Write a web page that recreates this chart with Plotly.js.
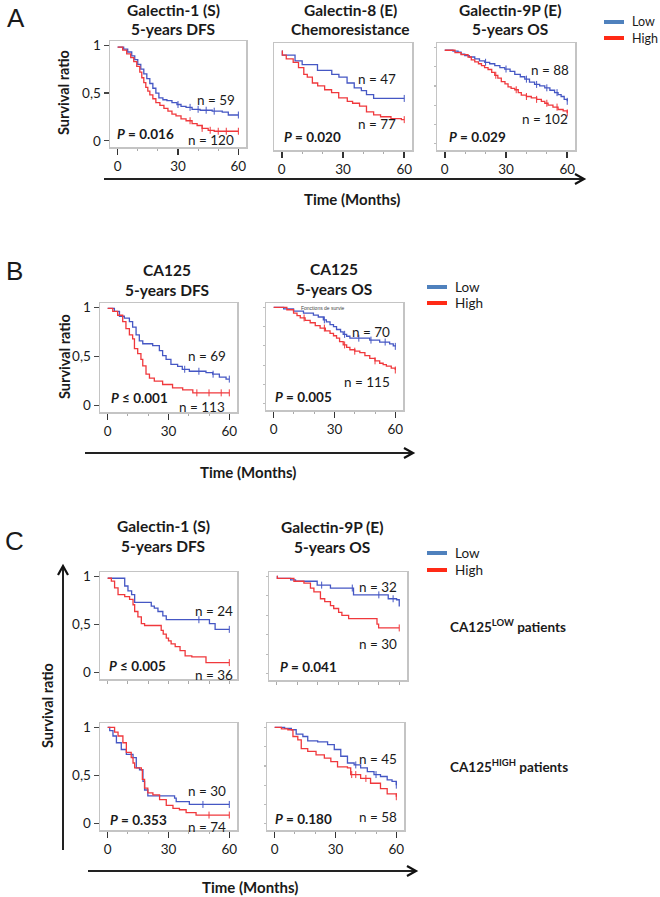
<!DOCTYPE html>
<html><head><meta charset="utf-8">
<script src="https://cdn.plot.ly/plotly-3.0.1.min.js"></script>
<style>html,body{margin:0;padding:0;background:#fff}#chart{width:660px;height:897px}</style>
</head><body><div id="chart"></div>
<script>
// ---------------- DATA ----------------
// Panel A - Galectin-1 (S) 5-years DFS
const a1LowT  = [0, 3, 5, 7, 8.5, 10, 11.5, 13, 14.5, 16, 17.5, 19, 20.5, 22.5, 24.5, 27, 29.5, 31.5, 34, 37, 41, 47, 52, 55, 60];
const a1LowS  = [0.98, 0.96, 0.93, 0.89, 0.85, 0.80, 0.75, 0.70, 0.65, 0.60, 0.55, 0.50, 0.45, 0.43, 0.42, 0.40, 0.38, 0.36, 0.35, 0.33, 0.32, 0.31, 0.30, 0.27, 0.27];
const a1LowC  = [30, 36, 40, 44, 48, 60];
const a1HighT = [0, 2.5, 4.5, 6.5, 8, 9.5, 11, 12, 13, 14, 15, 16, 17.5, 19, 21, 23, 25, 27, 29, 31.5, 34, 37, 39.5, 42, 45, 48, 60];
const a1HighS = [0.98, 0.95, 0.91, 0.87, 0.83, 0.78, 0.72, 0.66, 0.61, 0.56, 0.52, 0.48, 0.44, 0.40, 0.37, 0.34, 0.31, 0.28, 0.26, 0.23, 0.21, 0.18, 0.16, 0.13, 0.11, 0.10, 0.10];
const a1HighC = [36, 42, 46, 50, 54, 60];
// Panel A - Galectin-8 (E) Chemoresistance
const a2LowT  = [0, 0.3, 6.5, 10, 17.5, 24.5, 28, 32, 35.5, 39, 41.5, 45, 60];
const a2LowS  = [0.96, 0.92, 0.86, 0.82, 0.76, 0.72, 0.69, 0.63, 0.58, 0.55, 0.51, 0.47, 0.47];
const a2LowC  = [60];
const a2HighT = [0, 0.3, 2.2, 5.6, 8.2, 10.8, 12.5, 15, 17.6, 21, 24.4, 27.9, 32.1, 34.7, 38.1, 41.5, 45, 48.4, 53.5, 58.6, 60];
const a2HighS = [0.96, 0.92, 0.88, 0.845, 0.79, 0.72, 0.69, 0.63, 0.60, 0.56, 0.53, 0.475, 0.44, 0.42, 0.39, 0.33, 0.30, 0.28, 0.26, 0.25, 0.25];
const a2HighC = [60];
// Panel A - Galectin-9P (E) 5-years OS
const a3LowT  = [0, 4, 6.5, 8, 9.8, 12, 14.7, 17, 19.6, 22, 24.5, 27, 29.4, 32, 34.3, 37, 39.2, 41.5, 44, 46.5, 49, 51.5, 53.8, 55.5, 57, 58.5, 60];
const a3LowS  = [0.97, 0.96, 0.95, 0.93, 0.915, 0.90, 0.88, 0.86, 0.845, 0.83, 0.81, 0.79, 0.775, 0.75, 0.72, 0.695, 0.67, 0.64, 0.615, 0.60, 0.58, 0.555, 0.53, 0.51, 0.49, 0.46, 0.44];
const a3LowC  = [20, 30, 40, 45, 50, 55, 60];
const a3HighT = [0, 5, 8, 11.4, 13, 14.7, 16.5, 18, 19.5, 21.2, 23, 24.5, 26, 27.7, 29.5, 31, 32.5, 34.3, 36, 37.5, 40, 42.4, 45, 47.3, 49, 50.6, 53, 55.5, 58, 60];
const a3HighS = [0.97, 0.945, 0.925, 0.90, 0.87, 0.85, 0.83, 0.81, 0.79, 0.77, 0.74, 0.71, 0.68, 0.645, 0.62, 0.59, 0.575, 0.56, 0.53, 0.505, 0.49, 0.475, 0.46, 0.44, 0.42, 0.40, 0.38, 0.355, 0.34, 0.32];
const a3HighC = [25, 35, 40, 45, 50, 55, 60];
// Panel B - CA125 5-years DFS
const b1LowT  = [0, 3.3, 5.8, 8.2, 10.7, 12.3, 14, 15.6, 17.3, 22.2, 25.5, 27.1, 28.8, 31.2, 34.5, 36.8, 40.3, 48.5, 51.8, 55.1, 58.4, 60];
const b1LowS  = [0.99, 0.96, 0.91, 0.89, 0.855, 0.80, 0.72, 0.66, 0.63, 0.61, 0.56, 0.51, 0.47, 0.42, 0.40, 0.37, 0.35, 0.335, 0.32, 0.29, 0.27, 0.27];
const b1LowC  = [38, 45, 52, 60];
const b1HighT = [0, 2.5, 4.9, 7.4, 9, 10.7, 12.3, 13.2, 14.8, 16.4, 17.3, 18.9, 20.6, 23, 27.1, 32, 37, 42, 60];
const b1HighS = [0.99, 0.96, 0.92, 0.855, 0.785, 0.72, 0.68, 0.58, 0.53, 0.47, 0.405, 0.32, 0.28, 0.25, 0.215, 0.18, 0.16, 0.13, 0.13];
const b1HighC = [44, 50, 56, 60];
// Panel B - CA125 5-years OS
const b2LowT  = [0, 4.9, 9.8, 14.7, 19.6, 22, 24.5, 26, 27.8, 29.5, 31, 33, 34.3, 36, 37.6, 47.4, 52.3, 57.2, 59, 60];
const b2LowS  = [1.0, 0.985, 0.96, 0.94, 0.92, 0.90, 0.87, 0.85, 0.82, 0.80, 0.77, 0.745, 0.72, 0.70, 0.68, 0.66, 0.64, 0.62, 0.60, 0.595];
const b2LowC  = [25, 35, 42, 48, 55, 60];
const b2HighT = [0, 6.5, 9.8, 11.5, 13.1, 15.5, 18, 20.5, 22.9, 25.5, 27.8, 29.5, 31, 32.5, 34.3, 36, 37.6, 40, 42.5, 45, 47.4, 50, 52.3, 54, 55.6, 58, 60];
const b2HighS = [1.0, 0.975, 0.94, 0.915, 0.89, 0.865, 0.84, 0.81, 0.785, 0.755, 0.73, 0.705, 0.68, 0.645, 0.61, 0.585, 0.56, 0.545, 0.53, 0.50, 0.47, 0.445, 0.42, 0.405, 0.39, 0.37, 0.35];
const b2HighC = [15, 25, 35, 40, 50, 60];
// Panel C - CA125 LOW - Galectin-1 (S) 5-years DFS
const c1LowT  = [0, 8.4, 10, 11.8, 13.3, 21.5, 23, 24.8, 27.2, 28.9, 50.2, 53, 60];
const c1LowS  = [0.98, 0.90, 0.85, 0.81, 0.73, 0.69, 0.67, 0.635, 0.59, 0.55, 0.51, 0.45, 0.45];
const c1LowC  = [45, 60];
const c1HighT = [0, 1.8, 3.4, 5.1, 8.4, 10.8, 12.5, 13.3, 14.9, 16.6, 18.2, 26.4, 27.4, 28.9, 30, 31.3, 33.3, 35.7, 38.2, 41.5, 48.5, 60];
const c1HighS = [0.98, 0.95, 0.88, 0.81, 0.79, 0.76, 0.705, 0.635, 0.58, 0.51, 0.49, 0.44, 0.40, 0.36, 0.33, 0.30, 0.27, 0.23, 0.175, 0.165, 0.105, 0.105];
const c1HighC = [60];
// Panel C - CA125 LOW - Galectin-9P (E) 5-years OS
const c2LowT  = [0, 0.3, 6.8, 9.2, 19.8, 26.3, 37.6, 54.6, 58.7, 60];
const c2LowS  = [1.0, 0.98, 0.965, 0.95, 0.91, 0.88, 0.81, 0.77, 0.76, 0.69];
const c2LowC  = [22, 37, 50, 57];
const c2HighT = [0, 0.3, 8.4, 13.3, 16.5, 18.2, 21.4, 23.5, 26.3, 27.9, 30.3, 31.9, 35.2, 49.1, 49.9, 60];
const c2HighS = [1.0, 0.98, 0.95, 0.93, 0.88, 0.84, 0.77, 0.74, 0.70, 0.67, 0.63, 0.60, 0.565, 0.51, 0.47, 0.47];
const c2HighC = [60];
// Panel C - CA125 HIGH - Galectin-1 (S) 5-years DFS
const c3LowT  = [0, 1, 2.6, 4.3, 6.7, 9.2, 12.5, 14.1, 15.7, 17.4, 18.2, 19.8, 33, 33.8, 40.3, 60];
const c3LowS  = [1.0, 0.965, 0.91, 0.84, 0.77, 0.72, 0.685, 0.58, 0.56, 0.44, 0.35, 0.29, 0.265, 0.23, 0.20, 0.20];
const c3LowC  = [47, 60];
const c3HighT = [0, 3.4, 5.1, 7.5, 9.2, 11.6, 12.5, 13.3, 16.6, 17.1, 18.2, 19.8, 22.3, 25.6, 28.9, 32.2, 35.4, 38.7, 43.6, 60];
const c3HighS = [1.0, 0.95, 0.91, 0.84, 0.74, 0.685, 0.63, 0.58, 0.56, 0.46, 0.37, 0.32, 0.30, 0.25, 0.19, 0.16, 0.145, 0.115, 0.09, 0.09];
const c3HighC = [50, 60];
// Panel C - CA125 HIGH - Galectin-9P (E) 5-years OS
const c4LowT  = [0, 4.9, 8.2, 10.6, 13.9, 16.3, 21.2, 26.1, 29.4, 32.6, 35.9, 39.2, 42.4, 45.7, 49, 52.2, 55.5, 57.9, 60];
const c4LowS  = [1.0, 0.99, 0.975, 0.93, 0.905, 0.86, 0.85, 0.82, 0.77, 0.70, 0.63, 0.61, 0.58, 0.54, 0.51, 0.49, 0.455, 0.44, 0.40];
const c4LowC  = [40, 50, 60];
const c4HighT = [0, 3.3, 6.5, 9, 11.4, 13.1, 16.3, 20.4, 24.5, 27.7, 31, 35.9, 37.5, 42.4, 47.3, 52.2, 55.5, 60];
const c4HighS = [1.0, 0.985, 0.975, 0.905, 0.87, 0.78, 0.75, 0.715, 0.68, 0.645, 0.59, 0.58, 0.51, 0.47, 0.42, 0.365, 0.31, 0.28];
const c4HighC = [38, 40, 45, 60];

const groupNames = ['Low', 'High'];
const xTickVals = [0, 30, 60];
const yTickVals = [0, 0.5, 1];
const yTickText = ['0', '0,5', '1'];

// titles / labels
const plotTitles = {
  a1: ['Galectin-1 (S)', '5-years DFS'], a2: ['Galectin-8 (E)', 'Chemoresistance'], a3: ['Galectin-9P (E)', '5-years OS'],
  b1: ['CA125', '5-years DFS'], b2: ['CA125', '5-years OS'],
  c1: ['Galectin-1 (S)', '5-years DFS'], c2: ['Galectin-9P (E)', '5-years OS']
};
const nLabels = {
  a1: ['n = 59', 'n = 120'], a2: ['n = 47', 'n = 77'], a3: ['n = 88', 'n = 102'],
  b1: ['n = 69', 'n = 113'], b2: ['n = 70', 'n = 115'],
  c1: ['n = 24', 'n = 36'], c2: ['n = 32', 'n = 30'], c3: ['n = 30', 'n = 74'], c4: ['n = 45', 'n = 58']
};
const pLabels = {
  a1: '<i>P</i> = 0.016', a2: '<i>P</i> = 0.020', a3: '<i>P</i> = 0.029',
  b1: '<i>P</i> ≤ 0.001', b2: '<i>P</i> = 0.005',
  c1: '<i>P</i> ≤ 0.005', c2: '<i>P</i> = 0.041', c3: '<i>P</i> = 0.353', c4: '<i>P</i> = 0.180'
};

// ---------------- LAYOUT GEOMETRY ----------------
const W = 660, H = 897;
const PX = x => x / W, PY = y => 1 - y / H;
const FONT = 'Lato, "Open Sans", sans-serif';
const BLUE = '#4557c4', RED = '#f0383c';
const LEG_BLUE = '#4f81bd', LEG_RED = '#ff2a16';

const plots = {
  a1: {box: [110, 246, 41, 147], ylab: true,  xlab: true,  yminor: false, curves: [[a1LowT, a1LowS, a1LowC], [a1HighT, a1HighS, a1HighC]]},
  a2: {box: [274, 412, 43, 150], ylab: false, xlab: true,  yminor: false, curves: [[a2LowT, a2LowS, a2LowC], [a2HighT, a2HighS, a2HighC]]},
  a3: {box: [437, 575, 43, 150], ylab: false, xlab: true,  yminor: true,  curves: [[a3LowT, a3LowS, a3LowC], [a3HighT, a3HighS, a3HighC]]},
  b1: {box: [100, 237, 303, 412], ylab: true,  xlab: true,  yminor: false, curves: [[b1LowT, b1LowS, b1LowC], [b1HighT, b1HighS, b1HighC]]},
  b2: {box: [266, 403, 303, 410], ylab: false, xlab: true,  yminor: true,  curves: [[b2LowT, b2LowS, b2LowC], [b2HighT, b2HighS, b2HighC]]},
  c1: {box: [100, 237, 572, 679], ylab: true,  xlab: false, yminor: false, curves: [[c1LowT, c1LowS, c1LowC], [c1HighT, c1HighS, c1HighC]]},
  c2: {box: [269, 407, 572, 680], ylab: false, xlab: false, yminor: true,  curves: [[c2LowT, c2LowS, c2LowC], [c2HighT, c2HighS, c2HighC]]},
  c3: {box: [100, 237, 723, 830], ylab: true,  xlab: true,  yminor: false, curves: [[c3LowT, c3LowS, c3LowC], [c3HighT, c3HighS, c3HighC]]},
  c4: {box: [267, 404, 723, 830], ylab: false, xlab: true,  yminor: true,  curves: [[c4LowT, c4LowS, c4LowC], [c4HighT, c4HighS, c4HighC]]}
};
// annotation anchors inside each plot: [nTop x,y], [nBottom x,y], [P x,y]  (pixels)
const labelPos = {
  a1: [[237, 100], [236, 140], [115, 134]],
  a2: [[398, 79], [398, 124], [282, 137]],
  a3: [[571, 70], [570, 119], [447, 137]],
  b1: [[228, 356], [227, 407], [109, 398]],
  b2: [[392, 332], [392, 382], [273, 397]],
  c1: [[235, 611], [235, 675], [107, 666]],
  c2: [[399, 587], [399, 644], [278, 667]],
  c3: [[228, 791], [228, 827], [108, 820]],
  c4: [[399, 759], [399, 817], [273, 819]]
};
const titlePos = {a1: [173, 10, 29], a2: [350, 10, 29], a3: [510, 10, 29], b1: [167, 270, 290], b2: [334, 269, 289], c1: [163, 526, 546], c2: [332, 527, 547]};

function stepAt(T, S, t) { let v = S[0]; for (let i = 0; i < T.length; i++) { if (T[i] <= t) v = S[i]; } return v; }

const traces = [], layout = {
  width: W, height: H, margin: {l: 0, r: 0, t: 0, b: 0},
  paper_bgcolor: '#fff', plot_bgcolor: '#fff', showlegend: false,
  annotations: [], shapes: []
};
const ann = (x, y, text, o = {}) => layout.annotations.push({
  xref: 'paper', yref: 'paper', x: PX(x), y: PY(y), text, showarrow: false,
  xanchor: o.xa || 'center', yanchor: o.ya || 'middle', textangle: o.angle || 0,
  font: {family: o.family || FONT, size: o.size || 13, color: o.color || '#1a1a1a'}
});

Object.keys(plots).forEach((k, i) => {
  const p = plots[k], n = i + 1, xa = 'x' + (n === 1 ? '' : n), ya = 'y' + (n === 1 ? '' : n);
  const [l, r, t, b] = p.box;
  p.curves.forEach((c, g) => {
    const col = g === 0 ? BLUE : RED;
    traces.push({x: c[0], y: c[1], xaxis: xa, yaxis: ya, type: 'scatter', mode: 'lines', name: groupNames[g],
      line: {color: col, width: 1.3, shape: 'hv'}, hoverinfo: 'skip'});
    traces.push({x: c[2], y: c[2].map(tt => stepAt(c[0], c[1], tt)), xaxis: xa, yaxis: ya, type: 'scatter', mode: 'markers',
      name: groupNames[g] + ' censored', marker: {symbol: 'line-ns', size: 5, color: col, line: {width: 1, color: col}}, hoverinfo: 'skip'});
  });
  const xax = {
    domain: [PX(l), PX(r)], anchor: ya, range: [-3.8, 63.8], showgrid: false, zeroline: false,
    showline: true, mirror: true, linecolor: '#c4c4c4', linewidth: 1.5,
    tickvals: p.xlab ? xTickVals : [0, 10, 20, 30, 40, 50, 60], showticklabels: p.xlab,
    ticks: 'outside', ticklen: p.xlab ? 6 : 3, tickwidth: p.xlab ? 1.5 : 1, tickcolor: p.xlab ? '#333' : '#aaa',
    tickfont: {family: FONT, size: 13.5, color: '#1a1a1a'}
  };
  if (p.xlab) xax.minor = {tickvals: [10, 20, 40, 50], ticks: 'outside', ticklen: 2, tickcolor: '#aaa', tickwidth: 1};
  layout['xaxis' + (n === 1 ? '' : n)] = xax;
  const yax = {
    domain: [PY(b), PY(t)], anchor: xa, range: [-0.065, 1.045], showgrid: false, zeroline: false,
    showline: true, mirror: true, linecolor: '#c4c4c4', linewidth: 1.5,
    tickvals: p.ylab ? yTickVals : [0, 0.2, 0.4, 0.6, 0.8, 1],
    showticklabels: p.ylab, ticks: (p.ylab || p.yminor) ? 'outside' : '',
    ticklen: p.ylab ? 5 : 2, tickwidth: 1.2, tickcolor: p.ylab ? '#444' : '#bbb',
    tickfont: {family: FONT, size: 13.5, color: '#1a1a1a'}
  };
  if (p.ylab) yax.ticktext = yTickText;
  layout['yaxis' + (n === 1 ? '' : n)] = yax;
  // labels inside plots
  const lp = labelPos[k];
  ann(lp[0][0], lp[0][1], nLabels[k][0], {xa: 'right', size: 13.5});
  ann(lp[1][0], lp[1][1], nLabels[k][1], {xa: 'right', size: 13.5});
  ann(lp[2][0], lp[2][1], '<b>' + pLabels[k] + '</b>', {xa: 'left', size: 13.5});
  if (titlePos[k]) {
    ann(titlePos[k][0], titlePos[k][1], '<b>' + plotTitles[k][0] + '</b>', {size: 15.5});
    ann(titlePos[k][0], titlePos[k][2], '<b>' + plotTitles[k][1] + '</b>', {size: 15.5});
  }
});

// tiny SPSS caption
ann(323, 308, 'Fonctions de survie', {size: 5, color: '#444', family: 'Liberation Sans'});

// panel letters
ann(16, 18, 'A', {size: 26, family: 'Liberation Sans'});
ann(14, 271, 'B', {size: 26, family: 'Liberation Sans'});
ann(14, 541, 'C', {size: 26, family: 'Liberation Sans'});

// axis labels
ann(63, 93, '<b>Survival ratio</b>', {angle: -90, size: 14.5});
ann(65, 357, '<b>Survival ratio</b>', {angle: -90, size: 14.5});
ann(47, 706, '<b>Survival ratio</b>', {angle: -90, size: 14.5});
ann(352, 199, '<b>Time (Months)</b>', {size: 15});
ann(248, 472, '<b>Time (Months)</b>', {size: 15});
ann(250, 887, '<b>Time (Months)</b>', {size: 15});

// side labels
ann(448, 626, '<b>CA125<sup>LOW</sup> patients</b>', {xa: 'left', size: 13.5});
ann(448, 766, '<b>CA125<sup>HIGH</sup> patients</b>', {xa: 'left', size: 13.5});

// legends (drawn)
const legends = [[604, 22, 38, 12.5], [427, 287, 303, 13.5], [427, 553, 570, 13.5]];
legends.forEach(([x0, yLow, yHigh, fs]) => {
  layout.shapes.push({type: 'line', xref: 'paper', yref: 'paper', x0: PX(x0), x1: PX(x0 + 20), y0: PY(yLow), y1: PY(yLow), line: {color: LEG_BLUE, width: 4}});
  layout.shapes.push({type: 'line', xref: 'paper', yref: 'paper', x0: PX(x0), x1: PX(x0 + 20), y0: PY(yHigh), y1: PY(yHigh), line: {color: LEG_RED, width: 4}});
  ann(x0 + 26, yLow, groupNames[0], {xa: 'left', size: fs});
  ann(x0 + 26, yHigh, groupNames[1], {xa: 'left', size: fs});
});

// arrows
function hArrow(x0, x1, y) {
  layout.shapes.push({type: 'line', xref: 'paper', yref: 'paper', x0: PX(x0), x1: PX(x1), y0: PY(y), y1: PY(y), line: {color: '#222', width: 2}});
  layout.shapes.push({type: 'path', xref: 'paper', yref: 'paper',
    path: `M ${PX(x1 - 8)},${PY(y - 5)} L ${PX(x1 + 1)},${PY(y)} L ${PX(x1 - 8)},${PY(y + 5)}`, line: {color: '#111', width: 2.2}});
}
hArrow(104, 583, 179);
hArrow(85, 412, 453);
hArrow(88, 415, 871);
layout.shapes.push({type: 'line', xref: 'paper', yref: 'paper', x0: PX(63), x1: PX(63), y0: PY(850), y1: PY(567), line: {color: '#222', width: 2}});
layout.shapes.push({type: 'path', xref: 'paper', yref: 'paper',
  path: `M ${PX(58)},${PY(575)} L ${PX(63)},${PY(566)} L ${PX(68)},${PY(575)}`, line: {color: '#111', width: 2.2}});

Plotly.newPlot('chart', traces, layout, {staticPlot: true, displayModeBar: false});
</script></body></html>
